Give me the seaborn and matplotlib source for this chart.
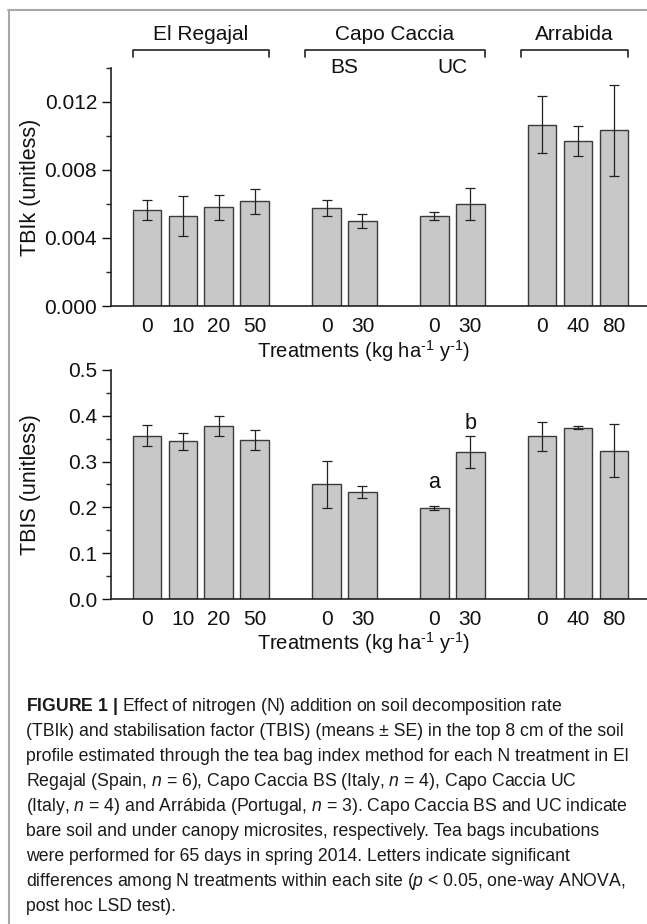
import numpy as np
import pandas as pd
import seaborn as sns
import matplotlib
matplotlib.use("Agg")
import matplotlib.pyplot as plt
import matplotlib.font_manager as fm
from matplotlib.lines import Line2D
from matplotlib.ticker import MultipleLocator, FormatStrFormatter

# data
positions = [0, 1, 2, 3, 5, 6, 8, 9, 11, 12, 13]
doses = ["0", "10", "20", "50", "0", "30", "0", "30", "0", "40", "80"]
tbik = [0.00564, 0.00530, 0.00579, 0.00615, 0.00577, 0.00497, 0.00529, 0.00599, 0.01065, 0.00969, 0.01032]
tbik_se = [0.00060, 0.00116, 0.00073, 0.00072, 0.00048, 0.00041, 0.00025, 0.00092, 0.00167, 0.00087, 0.00267]
tbis = [0.356, 0.344, 0.378, 0.347, 0.250, 0.233, 0.199, 0.321, 0.355, 0.374, 0.324]
tbis_se = [0.023, 0.018, 0.022, 0.021, 0.051, 0.0135, 0.005, 0.035, 0.031, 0.003, 0.057]
letters = {8: ("a", 0.254), 9: ("b", 0.384)}

sites = ["El Regajal", "Capo Caccia", "Arrabida"]
site_span = [(-0.4, 3.4), (4.4, 9.4), (10.4, 13.4)]
subsites = {"BS": 5.5, "UC": 8.5}

df = pd.DataFrame({"pos": positions, "dose": doses, "TBIk": tbik, "TBIk_se": tbik_se,
                   "TBIS": tbis, "TBIS_se": tbis_se})

sns.set_theme(style="ticks")
plt.rcParams["font.family"] = ["Liberation Sans", "DejaVu Sans"]

names = {f.name for f in fm.fontManager.ttflist}
cap_font = "Liberation Sans Narrow" if "Liberation Sans Narrow" in names else "Liberation Sans"
cap_size = 14 if cap_font == "Liberation Sans Narrow" else 12.7
plt.rcParams["mathtext.fontset"] = "custom"
plt.rcParams["mathtext.rm"] = "Liberation Sans"
plt.rcParams["mathtext.it"] = cap_font + ":italic"
plt.rcParams["mathtext.bf"] = cap_font + ":bold"

fig = plt.figure(figsize=(6.47, 9.24), dpi=100)
ax1 = fig.add_axes([0.1716, 0.6688, 0.8284, 0.2579])
ax2 = fig.add_axes([0.1716, 0.3517, 0.8284, 0.2479])

bar_fc = "#c8c8c8"
bar_ec = "#3a3a3a"
dark = "#222222"

for ax, col, top, step, fmt, lab in [(ax1, "TBIk", 0.014, 0.004, "%.3f", "TBIk (unitless)"),
                                      (ax2, "TBIS", 0.5, 0.1, "%.1f", "TBIS (unitless)")]:
    sns.barplot(data=df, x="pos", y=col, native_scale=True, width=0.8, color=bar_fc,
                saturation=1, edgecolor=bar_ec, linewidth=1.0, errorbar=None, ax=ax)
    ax.errorbar(df["pos"], df[col], yerr=df[col + "_se"], fmt="none", ecolor=dark,
                elinewidth=0.9, capsize=3.6, capthick=0.9)
    ax.set_xlim(-1.0, 13.92)
    ax.set_ylim(0, top)
    ax.yaxis.set_major_locator(MultipleLocator(step))
    ax.yaxis.set_minor_locator(MultipleLocator(step / 2))
    ax.yaxis.set_major_formatter(FormatStrFormatter(fmt))
    ax.set_xticks(positions, doses)
    ax.tick_params(axis="x", length=0, pad=8, labelsize=15, colors="#111111")
    ax.tick_params(axis="y", which="major", length=6.5, width=1.0, pad=3.5, labelsize=15,
                   colors="#111111")
    ax.tick_params(axis="y", which="minor", length=3.6, width=1.0)
    for s in ["top", "right"]:
        ax.spines[s].set_visible(False)
    for s in ["left", "bottom"]:
        ax.spines[s].set_linewidth(1.2)
        ax.spines[s].set_color(dark)
    ax.set_ylabel(lab, fontsize=15.5, color="#111111")
    ax.yaxis.set_label_coords(-0.13, 0.5)
    ax.set_xlabel(r"Treatments (kg ha$^{\text{-1}}$ y$^{\text{-1}}$)", fontsize=14.5,
                  color="#111111")
    ax.xaxis.set_label_coords(0.47, -0.135)

# site brackets above the top panel
for name, (x0, x1) in zip(sites, site_span):
    ax1.plot([x0, x0, x1, x1], [1.045, 1.074, 1.074, 1.045], color=dark, lw=1.2,
             transform=ax1.get_xaxis_transform(), clip_on=False)
    ax1.text((x0 + x1) / 2, 1.14, name, ha="center", va="center", fontsize=15,
             color="#111111", transform=ax1.get_xaxis_transform())
for name, x in subsites.items():
    ax1.text(x, 1.003, name, ha="center", va="center", fontsize=15, color="#111111",
             transform=ax1.get_xaxis_transform())

for p, (txt, y) in letters.items():
    ax2.text(p, y, txt, ha="center", va="center", fontsize=15.5, color="#111111")

# frame lines of the figure panel
fig.add_artist(Line2D([8 / 647, 1], [1 - 9.5 / 924] * 2, color="#a8a8a8", lw=1.5,
                      transform=fig.transFigure))
fig.add_artist(Line2D([9 / 647] * 2, [0, 1 - 9.5 / 924], color="#a8a8a8", lw=1.5,
                      transform=fig.transFigure))

caption = [
    r"$\mathbf{FIGURE\ 1\ |}$ Effect of nitrogen (N) addition on soil decomposition rate",
    "(TBIk) and stabilisation factor (TBIS) (means ± SE) in the top 8 cm of the soil",
    "profile estimated through the tea bag index method for each N treatment in El",
    r"Regajal (Spain, $n$ = 6), Capo Caccia BS (Italy, $n$ = 4), Capo Caccia UC",
    r"(Italy, $n$ = 4) and Arrábida (Portugal, $n$ = 3). Capo Caccia BS and UC indicate",
    "bare soil and under canopy microsites, respectively. Tea bags incubations",
    "were performed for 65 days in spring 2014. Letters indicate significant",
    r"differences among N treatments within each site ($p$ < 0.05, one-way ANOVA,",
    "post hoc LSD test).",
]
for i, line in enumerate(caption):
    fig.text(25.6 / 647, 1 - (711 + 25 * i) / 924, line, ha="left", va="baseline",
             fontsize=cap_size, family=[cap_font, "DejaVu Sans"], color="#1a1a1a")

fig.savefig("out.png", dpi=100)
